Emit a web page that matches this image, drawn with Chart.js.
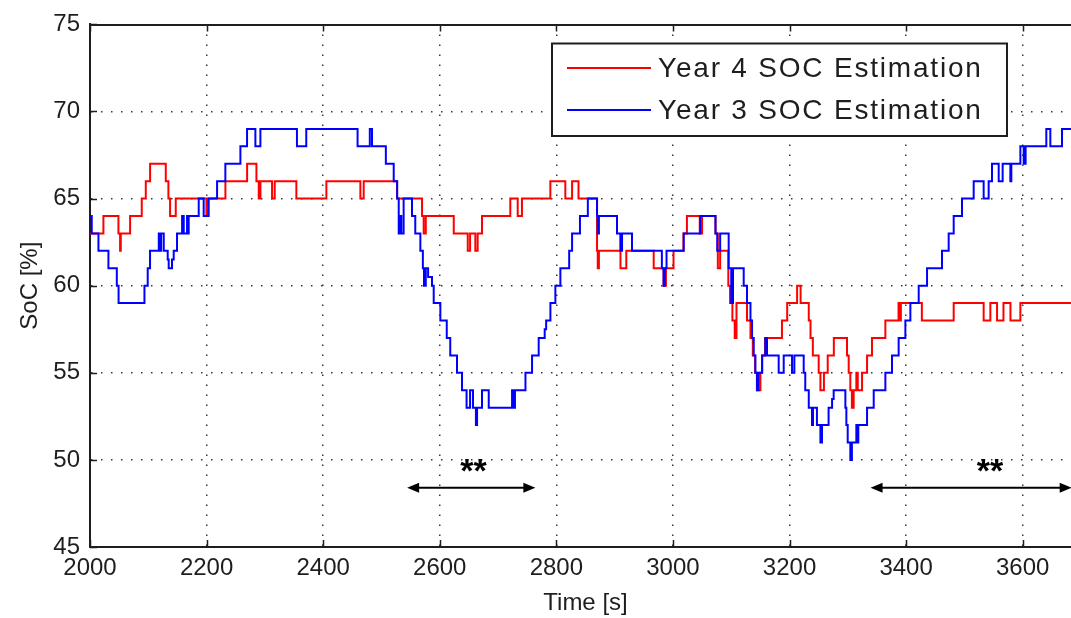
<!DOCTYPE html>
<html>
<head>
<meta charset="utf-8">
<script src="https://cdn.jsdelivr.net/npm/chart.js@4.4.0/dist/chart.umd.min.js"></script>
<style>
  html, body { margin: 0; padding: 0; background: #fff; overflow: hidden; width: 1071px; height: 618px; }
  #wrap { width: 1071px; height: 618px; overflow: hidden; position: relative; }
  canvas { display: block; }
</style>
</head>
<body>
<div id="wrap"><canvas id="soc" width="1081" height="618"></canvas></div>
<script>
// Axis ranges and tick spacing
const TIME_MIN = 2000, TIME_MAX = 3700;
const SOC_MIN = 45, SOC_MAX = 75;
const TIME_STEP = 200, SOC_STEP = 5;

// Year 4 estimate: time [s] where the SoC level changes, and the new level [%]
const YEAR4_T = [2000, 2023, 2048.8, 2051.6, 2052.8, 2068.8, 2088.8, 2095.7, 2103.1, 2130, 2134.5, 2137.4, 2147.1,
  2199.7, 2202, 2232.3, 2269.5, 2285.5, 2289.5, 2292.4, 2312.3, 2316.9, 2354, 2405.5, 2463.8, 2469.5, 2526.7,
  2569.6, 2572.4, 2576, 2624, 2648, 2652, 2661, 2665, 2672.5, 2721, 2733.7, 2741, 2789.7, 2815.4, 2827, 2838,
  2869.8, 2871, 2873, 2910, 2920, 2967, 2984, 2988, 3001, 3018, 3024, 3046, 3050, 3073, 3077, 3081, 3095, 3098,
  3102, 3106, 3109, 3127, 3133, 3137, 3141, 3144, 3150, 3153, 3158, 3187, 3196, 3213, 3219, 3233, 3236, 3240,
  3250, 3253, 3259, 3265.5, 3276, 3298.6, 3301.5, 3304.3, 3307, 3310, 3314.6, 3317, 3324.4, 3333, 3341.5, 3364.4,
  3387, 3389, 3391, 3427, 3481.6, 3533, 3544.5, 3556, 3567, 3579, 3596, 3700];
const YEAR4_SOC = [63, 64, 63, 62, 63, 64, 65, 66, 67, 66, 65, 64, 65,
  64, 65, 66, 67, 66, 65, 66, 65, 66, 65, 66, 65, 66, 65,
  64, 63, 64, 63, 62, 63, 62, 63, 64, 65, 64, 65, 66, 65, 66, 65,
  62, 61, 62, 61, 62, 61, 60, 61, 62, 63, 64, 63, 64, 63, 61, 62, 60, 59,
  58, 57, 59, 58, 57, 56, 55, 54, 55, 56, 57, 58, 59, 60, 59, 58, 57, 56,
  55, 54, 55, 56, 57, 56, 55, 54, 53, 54, 55, 54, 55, 56, 57, 58,
  59, 58, 59, 58, 59, 58, 59, 58, 59, 58, 59, 59];

// Year 3 estimate: time [s] where the SoC level changes, and the new level [%]
const YEAR3_T = [2000, 2003, 2014.5, 2031.6, 2046, 2049, 2093.4, 2099, 2103, 2118, 2120, 2122, 2126.5, 2133.3,
  2135, 2140.7, 2143.6, 2149.3, 2158, 2160.8, 2166.5, 2167.6, 2169.3, 2186.5, 2195, 2203.6, 2218, 2232.2, 2258,
  2269.4, 2283.7, 2292.3, 2355, 2371, 2459, 2480, 2483.8, 2507.5, 2521, 2527, 2529.6, 2532, 2534, 2538, 2552.4,
  2558, 2566.7, 2571, 2573, 2576, 2580, 2586.7, 2589.6, 2601, 2612, 2618, 2629.6, 2638.2, 2646, 2652, 2657, 2662,
  2664, 2672.5, 2684, 2724, 2726, 2729, 2747, 2758.3, 2769.7, 2780, 2782.5, 2789.8, 2798.3, 2806.9, 2822, 2827,
  2840.5, 2854, 2869.8, 2871, 2873, 2904, 2909.8, 2912.7, 2929.8, 2981, 2984, 2986, 2989, 3018.5, 3047, 3073,
  3076, 3081, 3095.6, 3100, 3103, 3121.4, 3127, 3133, 3135.7, 3138.6, 3141.4, 3144.3, 3147, 3153, 3158.5, 3161.4,
  3181.4, 3190, 3204.3, 3208.3, 3224.3, 3227, 3233, 3238.6, 3240.3, 3247, 3253, 3255.7, 3267, 3273, 3275.7,
  3295.8, 3297.5, 3299.8, 3304.3, 3307, 3314.6, 3316, 3318, 3333, 3344.4, 3364.4, 3375.8, 3387.2, 3398.7, 3407.3,
  3421.6, 3435.9, 3461.6, 3473, 3481.6, 3495.9, 3515.9, 3533, 3541.6, 3547.3, 3558.8, 3565.6, 3578.8, 3580.5,
  3596, 3601.7, 3605, 3640.5, 3647.4, 3667.4, 3700];
const YEAR3_SOC = [64, 63, 62, 61, 60, 59, 60, 61, 62, 63, 62, 63, 62, 61.5,
  61, 61.5, 62, 63, 64, 63, 64, 63, 64, 65, 64, 65, 66, 67, 68,
  69, 68, 69, 68, 69, 68, 69, 68, 67, 66, 65, 63, 64, 63, 65, 64,
  63, 62, 61, 60, 61, 60.5, 60, 59, 58, 57, 56, 55, 54, 53, 54, 53, 52,
  53, 54, 53, 54, 53, 54, 55, 56, 57, 57.5, 58, 59, 60, 61, 62, 63,
  64, 65, 64, 63, 64, 63, 62, 63, 62, 61, 60, 61, 62, 63, 64, 63,
  62, 63, 61, 59, 61, 60, 59, 58, 57, 56, 55, 54, 55, 56, 57, 56,
  55, 56, 55, 56, 55, 54, 53, 52, 53, 52, 51, 52, 53, 53.5, 54,
  53, 52, 51, 50, 51, 52, 51, 52, 53, 54, 55, 56, 57, 58, 59,
  60, 61, 62, 63, 64, 65, 66, 65, 66, 67, 66, 67, 66, 67,
  68, 67, 68, 69, 68, 69, 69];

const SERIES_LABELS = ['Year 4 SOC Estimation', 'Year 3 SOC Estimation'];

// Marked intervals (double arrows) and their "**" labels
const MARK_SPANS = [[2544, 2764], [3339, 3684]];
const MARK_LABEL_T = [2658, 3544];
const MARK_LEVEL = 48.4;
const MARK_TEXT = '**';

const FONT = '"Liberation Sans", Arial, Helvetica, sans-serif';
const INK = '#1e1e1e';

const toPoints = (ts, vs) => ts.map((t, i) => ({ x: t, y: vs[i] }));

// Inward tick marks and the top frame edge, MATLAB style
const framePlugin = {
  id: 'frame',
  afterDraw(chart) {
    const { ctx, chartArea: a, scales: { x, y } } = chart;
    const len = 7;
    ctx.save();
    ctx.strokeStyle = INK;
    ctx.lineWidth = 1.5;
    ctx.beginPath();
    x.ticks.forEach(t => {
      const px = Math.round(x.getPixelForValue(t.value)) + 0.5;
      ctx.moveTo(px, a.bottom); ctx.lineTo(px, a.bottom - len);
      ctx.moveTo(px, a.top); ctx.lineTo(px, a.top + len);
    });
    y.ticks.forEach(t => {
      const py = Math.round(y.getPixelForValue(t.value)) + 0.5;
      ctx.moveTo(a.left, py); ctx.lineTo(a.left + len, py);
      ctx.moveTo(a.right, py); ctx.lineTo(a.right - len, py);
    });
    ctx.stroke();
    ctx.lineWidth = 2;
    ctx.beginPath();
    ctx.moveTo(a.left, a.top + 0.5); ctx.lineTo(a.right, a.top + 0.5);
    ctx.moveTo(a.right - 0.5, a.top); ctx.lineTo(a.right - 0.5, a.bottom);
    ctx.stroke();
    ctx.restore();
  }
};

// Double-headed arrows with "**" labels
const marksPlugin = {
  id: 'marks',
  afterDatasetsDraw(chart) {
    const { ctx, scales: { x, y } } = chart;
    const py = y.getPixelForValue(MARK_LEVEL);
    const head = 12, half = 5;
    ctx.save();
    ctx.strokeStyle = '#000';
    ctx.fillStyle = '#000';
    ctx.lineWidth = 2;
    MARK_SPANS.forEach(([t0, t1], i) => {
      const x0 = x.getPixelForValue(t0), x1 = x.getPixelForValue(t1);
      ctx.beginPath();
      ctx.moveTo(x0 + head - 2, py); ctx.lineTo(x1 - head + 2, py);
      ctx.stroke();
      ctx.beginPath();
      ctx.moveTo(x0, py); ctx.lineTo(x0 + head, py - half); ctx.lineTo(x0 + head, py + half); ctx.closePath();
      ctx.moveTo(x1, py); ctx.lineTo(x1 - head, py - half); ctx.lineTo(x1 - head, py + half); ctx.closePath();
      ctx.fill();
      ctx.font = 'bold 34px ' + FONT;
      ctx.textAlign = 'center';
      ctx.textBaseline = 'alphabetic';
      ctx.fillText(MARK_TEXT, x.getPixelForValue(MARK_LABEL_T[i]), py - 6);
    });
    ctx.restore();
  }
};

// Boxed legend in the upper right of the plot
const legendPlugin = {
  id: 'boxLegend',
  afterDraw(chart) {
    const { ctx } = chart;
    const box = { l: 552, t: 43.5, r: 1007, b: 136 };
    const rows = [68, 110];
    ctx.save();
    ctx.fillStyle = '#fff';
    ctx.fillRect(box.l, box.t, box.r - box.l, box.b - box.t);
    ctx.strokeStyle = INK;
    ctx.lineWidth = 2;
    ctx.strokeRect(box.l, box.t, box.r - box.l, box.b - box.t);
    ctx.font = '28px ' + FONT;
    ctx.textAlign = 'left';
    ctx.textBaseline = 'middle';
    if ('letterSpacing' in ctx) ctx.letterSpacing = '1.8px';
    chart.data.datasets.forEach((ds, i) => {
      const yy = rows[i];
      ctx.strokeStyle = ds.borderColor;
      ctx.lineWidth = 2;
      ctx.beginPath();
      ctx.moveTo(567, yy); ctx.lineTo(651, yy);
      ctx.stroke();
      ctx.fillStyle = INK;
      ctx.fillText(ds.label, 658, yy + 1);
    });
    ctx.restore();
  }
};

const tickFont = { family: FONT, size: 24 };

new Chart(document.getElementById('soc'), {
  type: 'line',
  data: {
    datasets: [
      { label: SERIES_LABELS[0], data: toPoints(YEAR4_T, YEAR4_SOC), borderColor: '#ff0000', order: 1 },
      { label: SERIES_LABELS[1], data: toPoints(YEAR3_T, YEAR3_SOC), borderColor: '#0000ff', order: 0 }
    ]
  },
  options: {
    responsive: false,
    animation: false,
    events: [],
    layout: { padding: { top: 20, left: 0, right: 0, bottom: 0 } },
    datasets: { line: { stepped: 'before', borderWidth: 2, pointRadius: 0, fill: false, tension: 0 } },
    plugins: { legend: { display: false }, tooltip: { enabled: false } },
    scales: {
      x: {
        type: 'linear',
        min: TIME_MIN, max: TIME_MAX,
        afterFit(s) { s.height = 71; },
        ticks: {
          stepSize: TIME_STEP, includeBounds: false, autoSkip: false, maxRotation: 0,
          font: tickFont, color: INK, padding: 7,
          callback: v => String(v)
        },
        grid: { color: '#3a3a3a', lineWidth: 1.5, drawTicks: false },
        border: { color: INK, width: 2, dash: [1.5, 8.5] },
        title: { display: true, text: 'Time [s]', font: tickFont, color: INK, padding: { top: 0, bottom: 0 } }
      },
      y: {
        min: SOC_MIN, max: SOC_MAX,
        afterFit(s) { s.width = 90; },
        ticks: {
          stepSize: SOC_STEP, autoSkip: false,
          font: tickFont, color: INK, padding: 10,
          callback: v => String(v)
        },
        grid: { color: '#3a3a3a', lineWidth: 1.5, drawTicks: false },
        border: { color: INK, width: 2, dash: [1.5, 8.5] },
        title: { display: true, text: 'SoC [%]', font: tickFont, color: INK, padding: { top: 16, bottom: 0 } }
      }
    }
  },
  plugins: [framePlugin, marksPlugin, legendPlugin]
});
</script>
</body>
</html>
